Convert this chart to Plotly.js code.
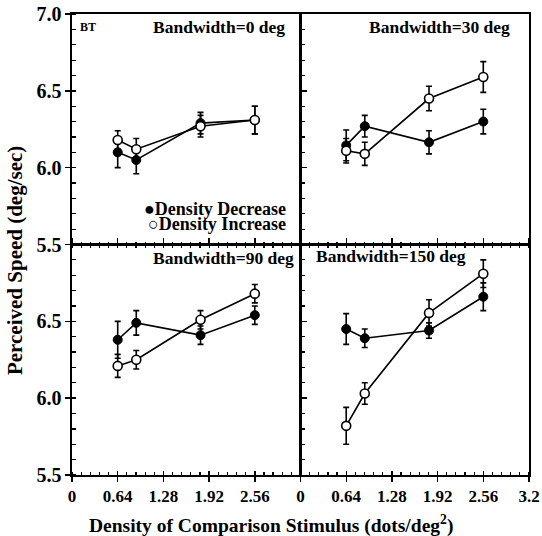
<!DOCTYPE html>
<html>
<head>
<meta charset="utf-8">
<script src="https://cdn.plot.ly/plotly-3.0.1.min.js"></script>
<style>html,body{margin:0;padding:0;background:#fff;}#chart{width:542px;height:536px;}</style>
</head>
<body>
<div id="chart"></div>
<script>
// Comparison densities (dots/deg^2)
const density = [0.64, 0.9, 1.8, 2.56];

// Bandwidth = 0 deg
const bw0Decrease = [6.10, 6.05, 6.29, 6.31];
const bw0DecreaseErr = [0.10, 0.09, 0.07, 0.09];
const bw0Increase = [6.18, 6.12, 6.27, 6.31];
const bw0IncreaseErr = [0.06, 0.07, 0.07, 0.09];

// Bandwidth = 30 deg
const bw30Decrease = [6.145, 6.27, 6.165, 6.30];
const bw30DecreaseErr = [0.10, 0.07, 0.075, 0.08];
const bw30Increase = [6.11, 6.09, 6.45, 6.59];
const bw30IncreaseErr = [0.08, 0.075, 0.08, 0.10];

// Bandwidth = 90 deg
const bw90Decrease = [6.38, 6.49, 6.41, 6.54];
const bw90DecreaseErr = [0.12, 0.08, 0.06, 0.06];
const bw90Increase = [6.21, 6.25, 6.51, 6.68];
const bw90IncreaseErr = [0.075, 0.06, 0.06, 0.06];

// Bandwidth = 150 deg
const bw150Decrease = [6.45, 6.39, 6.44, 6.66];
const bw150DecreaseErr = [0.10, 0.06, 0.05, 0.09];
const bw150Increase = [5.82, 6.03, 6.555, 6.81];
const bw150IncreaseErr = [0.12, 0.07, 0.085, 0.09];

const xTickVals = [0, 0.64, 1.28, 1.92, 2.56, 3.2];
const xTickTextLeft = ['0', '0.64', '1.28', '1.92', '2.56', ' '];
const xTickTextRight = ['0', '0.64', '1.28', '1.92', '2.56', '3.2'];
const yTickVals = [5.5, 6.0, 6.5, 7.0];
const yTickTextTop = ['5.5', '6.0', '6.5', '7.0'];
const yTickTextBottom = ['5.5', '6.0', '6.5', ' '];

const panelTitles = ['Bandwidth=0 deg', 'Bandwidth=30 deg', 'Bandwidth=90 deg', 'Bandwidth=150 deg'];
const seriesNames = ['Density Decrease', 'Density Increase'];
const subjectLabel = 'BT';
const xTitle = 'Density of Comparison Stimulus (dots/deg<sup>2</sup>)';
const yTitle = 'Perceived Speed (deg/sec)';

const FONT = 'Liberation Serif';

const panels = [
  {xa: 'x',  ya: 'y',  dec: bw0Decrease,   decE: bw0DecreaseErr,   inc: bw0Increase,   incE: bw0IncreaseErr},
  {xa: 'x2', ya: 'y2', dec: bw30Decrease,  decE: bw30DecreaseErr,  inc: bw30Increase,  incE: bw30IncreaseErr},
  {xa: 'x3', ya: 'y3', dec: bw90Decrease,  decE: bw90DecreaseErr,  inc: bw90Increase,  incE: bw90IncreaseErr},
  {xa: 'x4', ya: 'y4', dec: bw150Decrease, decE: bw150DecreaseErr, inc: bw150Increase, incE: bw150IncreaseErr}
];

const traces = [];
panels.forEach(p => {
  traces.push({
    type: 'scatter', mode: 'lines+markers', name: seriesNames[0], showlegend: false,
    x: density, y: p.dec, xaxis: p.xa, yaxis: p.ya,
    line: {color: '#000', width: 1.6},
    marker: {symbol: 'circle', size: 9, color: '#000', line: {color: '#000', width: 1}},
    error_y: {type: 'data', array: p.decE, visible: true, color: '#000', thickness: 1.6, width: 3}
  });
  traces.push({
    type: 'scatter', mode: 'lines+markers', name: seriesNames[1], showlegend: false,
    x: density, y: p.inc, xaxis: p.xa, yaxis: p.ya,
    line: {color: '#000', width: 1.6},
    marker: {symbol: 'circle', size: 9, color: '#fff', line: {color: '#000', width: 1.6}},
    error_y: {type: 'data', array: p.incE, visible: true, color: '#000', thickness: 1.6, width: 3}
  });
});
// empty traces that carry the overlay axes used for crossing major ticks
traces.push({type: 'scatter', x: [], y: [], xaxis: 'x', yaxis: 'y5', showlegend: false, hoverinfo: 'skip'});
traces.push({type: 'scatter', x: [], y: [], xaxis: 'x3', yaxis: 'y6', showlegend: false, hoverinfo: 'skip'});
traces.push({type: 'scatter', x: [], y: [], xaxis: 'x5', yaxis: 'y3', showlegend: false, hoverinfo: 'skip'});
traces.push({type: 'scatter', x: [], y: [], xaxis: 'x6', yaxis: 'y4', showlegend: false, hoverinfo: 'skip'});

const tickFontX = {family: FONT, size: 17, color: '#000', weight: 'bold'};
const tickFontY = {family: FONT, size: 20, color: '#000', weight: 'bold'};

function xAxis(domain, anchor, labels, ticktext) {
  const a = {
    domain: domain, anchor: anchor, range: [0, 3.2], fixedrange: true,
    showgrid: false, zeroline: false, showline: true, linecolor: '#000', linewidth: 1.6,
    tickmode: 'array', tickvals: xTickVals, ticktext: ticktext || xTickTextRight,
    tickcolor: '#000', tickwidth: 1.4,
    showticklabels: labels, tickfont: tickFontX,
    minor: {ticks: 'inside', dtick: 0.128, tick0: 0, ticklen: 3, tickwidth: 1.2, tickcolor: '#000', showgrid: false}
  };
  if (labels) { a.ticks = 'outside'; a.ticklen = 5; a.mirror = 'ticks'; }
  else { a.ticks = 'inside'; a.ticklen = 5; a.mirror = true; }
  return a;
}
function yAxis(domain, anchor, labels, ticktext) {
  const a = {
    domain: domain, anchor: anchor, range: [5.5, 7.0], fixedrange: true,
    showgrid: false, zeroline: false, showline: true, linecolor: '#000', linewidth: 1.6,
    tickmode: 'array', tickvals: yTickVals, ticktext: ticktext || yTickTextTop,
    tickcolor: '#000', tickwidth: 1.4, mirror: true,
    showticklabels: labels, tickfont: tickFontY,
    minor: {ticks: 'inside', dtick: 0.1, tick0: 5.5, ticklen: 4, tickwidth: 1.2, tickcolor: '#000', showgrid: false}
  };
  if (labels) { a.ticks = 'outside'; a.ticklen = 5; }
  else { a.ticks = 'inside'; a.ticklen = 6; }
  return a;
}
function overlayAxis(overlaying, anchor, range, vals) {
  return {
    overlaying: overlaying, anchor: anchor, range: range, fixedrange: true,
    showgrid: false, zeroline: false, showline: false, showticklabels: false,
    tickmode: 'array', tickvals: vals, ticks: 'inside', ticklen: 4, tickwidth: 1.4, tickcolor: '#000'
  };
}

const annFont = (s) => ({family: FONT, size: s, color: '#000'});

const layout = {
  width: 542, height: 536,
  margin: {l: 72, r: 13, t: 14, b: 61, pad: 0},
  paper_bgcolor: '#fff', plot_bgcolor: 'rgba(0,0,0,0)',
  showlegend: false,
  font: {family: FONT, color: '#000'},
  xaxis:  xAxis([0, 0.5], 'y', false),
  yaxis:  yAxis([0.5, 1], 'x', true, yTickTextTop),
  xaxis2: xAxis([0.5, 1], 'y2', false),
  yaxis2: yAxis([0.5, 1], 'x2', false),
  xaxis3: xAxis([0, 0.5], 'y3', true, xTickTextLeft),
  yaxis3: yAxis([0, 0.5], 'x3', true, yTickTextBottom),
  xaxis4: xAxis([0.5, 1], 'y4', true, xTickTextRight),
  yaxis4: yAxis([0, 0.5], 'x4', false),
  yaxis5: overlayAxis('y', 'x', [5.5, 7.0], yTickVals),
  yaxis6: overlayAxis('y3', 'x3', [5.5, 7.0], yTickVals),
  xaxis5: overlayAxis('x3', 'y3', [0, 3.2], xTickVals),
  xaxis6: overlayAxis('x4', 'y4', [0, 3.2], xTickVals),
  annotations: [
    {xref: 'x domain', yref: 'y domain', x: 0.026, y: 0.943, xanchor: 'left', yanchor: 'middle', showarrow: false,
     text: '<b>' + subjectLabel + '</b>', font: annFont(12)},
    {xref: 'x domain', yref: 'y domain', x: 0.943, y: 0.943, xanchor: 'right', yanchor: 'middle', showarrow: false,
     text: '<b>' + panelTitles[0] + '</b>', font: annFont(17.5)},
    {xref: 'x2 domain', yref: 'y2 domain', x: 0.925, y: 0.943, xanchor: 'right', yanchor: 'middle', showarrow: false,
     text: '<b>' + panelTitles[1] + '</b>', font: annFont(17.5)},
    {xref: 'x3 domain', yref: 'y3 domain', x: 0.982, y: 0.943, xanchor: 'right', yanchor: 'middle', showarrow: false,
     text: '<b>' + panelTitles[2] + '</b>', font: annFont(17.5)},
    {xref: 'x4 domain', yref: 'y4 domain', x: 0.057, y: 0.948, xanchor: 'left', yanchor: 'middle', showarrow: false,
     text: '<b>' + panelTitles[3] + '</b>', font: annFont(17.5)},
    {xref: 'x domain', yref: 'y domain', x: 0.947, y: 0.152, xanchor: 'right', yanchor: 'middle', showarrow: false,
     text: '<b>\u25CF' + seriesNames[0] + '</b>', font: annFont(18)},
    {xref: 'x domain', yref: 'y domain', x: 0.947, y: 0.087, xanchor: 'right', yanchor: 'middle', showarrow: false,
     text: '<b>\u25CB' + seriesNames[1] + '</b>', font: annFont(18)},
    {xref: 'paper', yref: 'paper', x: 0.435, y: -0.107, xanchor: 'center', yanchor: 'middle', showarrow: false,
     text: '<b>' + xTitle + '</b>', font: annFont(19.5)},
    {xref: 'paper', yref: 'paper', x: -0.125, y: 0.466, xanchor: 'center', yanchor: 'middle', showarrow: false,
     textangle: -90, text: '<b>' + yTitle + '</b>', font: annFont(21)}
  ]
};

Plotly.newPlot('chart', traces, layout, {staticPlot: true, displayModeBar: false});
</script>
</body>
</html>
